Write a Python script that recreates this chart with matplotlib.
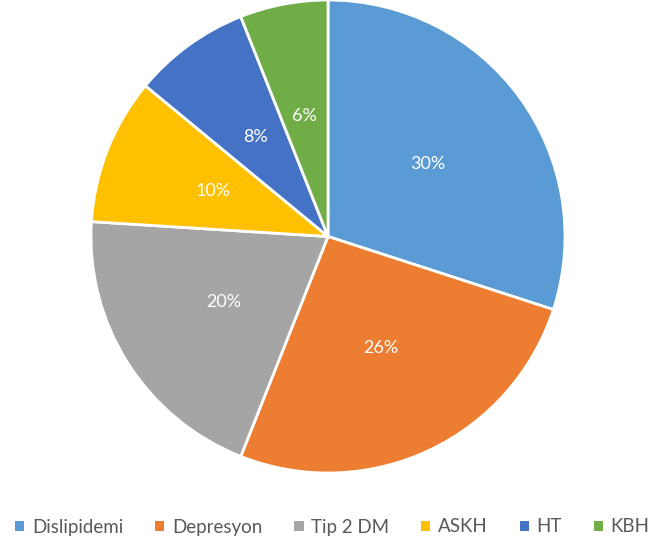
import matplotlib
matplotlib.use("Agg")
import matplotlib.pyplot as plt
from matplotlib.patches import Patch

categories = ["Dislipidemi", "Depresyon", "Tip 2 DM", "ASKH", "HT", "KBH"]
values = [30, 26, 20, 10, 8, 6]
colors = ["#5B9BD5", "#ED7D31", "#A5A5A5", "#FFC000", "#4472C4", "#70AD47"]

plt.rcParams["font.family"] = ["Lato", "DejaVu Sans"]

fig = plt.figure(figsize=(6.58, 5.46), dpi=100)
ax = fig.add_axes([91 / 658, 73 / 546, 474 / 658, 473 / 546])

wedges, texts, autotexts = ax.pie(
    values, colors=colors, startangle=90, counterclock=False,
    autopct="%1.0f%%", pctdistance=0.52,
    wedgeprops=dict(edgecolor="white", linewidth=2),
    textprops=dict(color="white", fontsize=13))
ax.set_xlim(-1, 1)
ax.set_ylim(-1, 1)
ax.set_aspect("auto")

handles = [Patch(facecolor=c, edgecolor="none") for c in colors]
fig.legend(handles, categories, loc="center", bbox_to_anchor=(0.505, 1 - 527 / 546),
           ncol=6, frameon=False, fontsize=13.5, handlelength=0.5, handleheight=0.5,
           handletextpad=0.4, columnspacing=1.7, labelcolor="#595959")

fig.savefig("out.png", dpi=100)
